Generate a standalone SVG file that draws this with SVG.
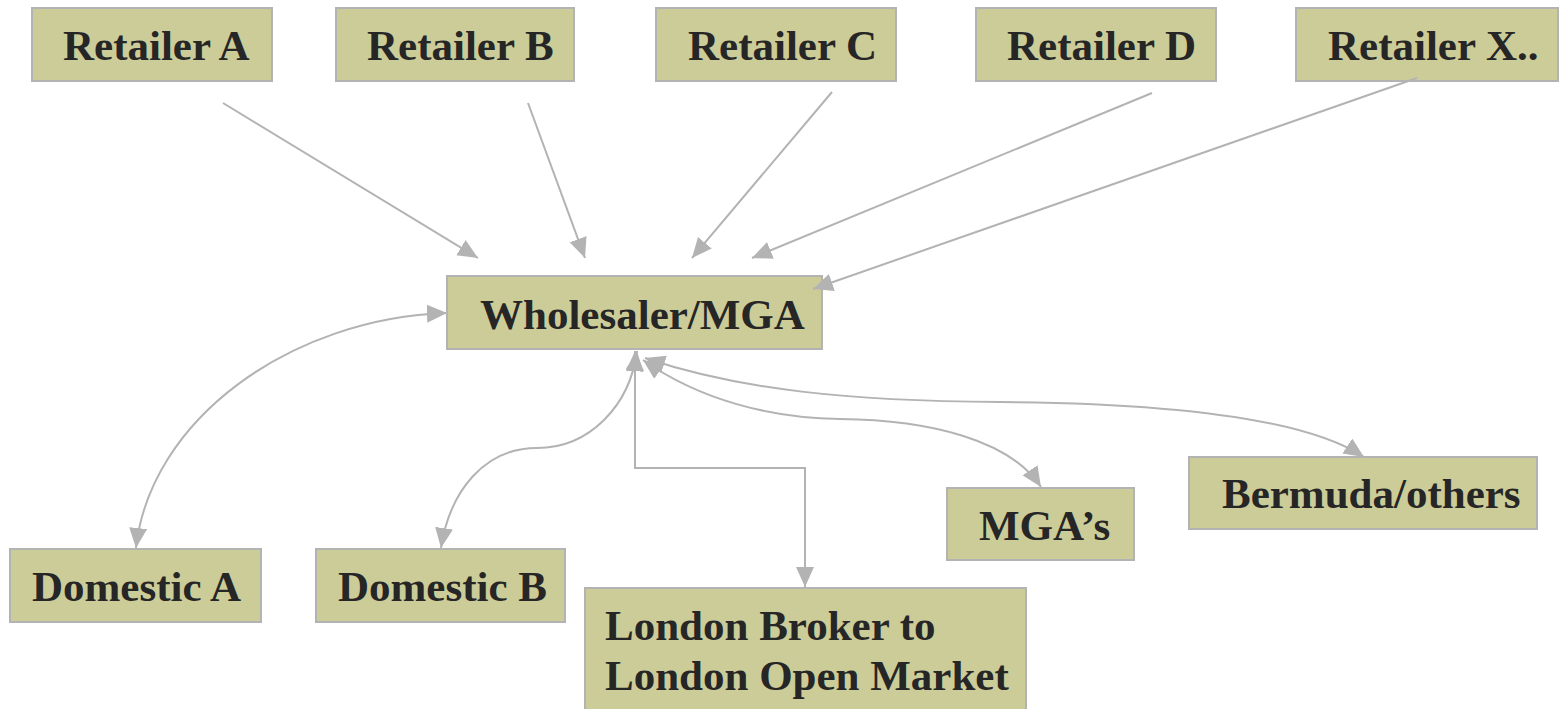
<svg xmlns="http://www.w3.org/2000/svg" width="1559" height="709" viewBox="0 0 1559 709">
<style>
.box{fill:#cccc99;stroke:#b3b3b3;stroke-width:2}
.lbl{font-family:"Liberation Serif","Times New Roman",serif;font-weight:bold;font-size:43px;fill:#262626}
.c{fill:none;stroke:#b3b3b3;stroke-width:2}
</style>
<defs>
<marker id="ah" markerUnits="userSpaceOnUse" markerWidth="22" markerHeight="20" refX="20" refY="9" orient="auto-start-reverse" viewBox="0 0 22 20">
<path d="M0,0 L20,9 L0,18 z" fill="#b3b3b3"/>
</marker>
</defs>
<rect width="1559" height="709" fill="#ffffff"/>
<g id="retailer-a"><rect class="box" x="32" y="8" width="240" height="73"/><text class="lbl" x="63" y="60">Retailer A</text></g>
<g id="retailer-b"><rect class="box" x="336" y="8" width="238" height="73"/><text class="lbl" x="367" y="60">Retailer B</text></g>
<g id="retailer-c"><rect class="box" x="656" y="8" width="240" height="73"/><text class="lbl" x="688" y="60">Retailer C</text></g>
<g id="retailer-d"><rect class="box" x="976" y="8" width="240" height="73"/><text class="lbl" x="1007" y="60">Retailer D</text></g>
<g id="retailer-x"><rect class="box" x="1296" y="8" width="262" height="73"/><text class="lbl" x="1328" y="60">Retailer X..</text></g>
<g id="wholesaler"><rect class="box" x="447" y="276" width="375" height="73"/><text class="lbl" x="480" y="329">Wholesaler/MGA</text></g>
<g id="domestic-a"><rect class="box" x="10" y="549" width="251" height="73"/><text class="lbl" x="32" y="601">Domestic A</text></g>
<g id="domestic-b"><rect class="box" x="316" y="549" width="249" height="73"/><text class="lbl" x="338" y="601">Domestic B</text></g>
<g id="london"><rect class="box" x="585" y="588" width="441" height="130"/><text class="lbl" x="605" y="640">London Broker to</text><text class="lbl" x="605" y="690">London Open Market</text></g>
<g id="mgas"><rect class="box" x="947" y="488" width="187" height="72"/><text class="lbl" x="979" y="540">MGA’s</text></g>
<g id="bermuda"><rect class="box" x="1189" y="457" width="348" height="72"/><text class="lbl" x="1222" y="508">Bermuda/others</text></g>
<g id="connectors">
<path class="c" d="M223,103 L478,258" marker-end="url(#ah)"/>
<path class="c" d="M528,103 L585,258" marker-end="url(#ah)"/>
<path class="c" d="M832,92 L692,258" marker-end="url(#ah)"/>
<path class="c" d="M1152,93 L752,258" marker-end="url(#ah)"/>
<path class="c" d="M1417,78 L813,289" marker-end="url(#ah)"/>
<path class="c" d="M136,548 C150,420 290,318 447,313" marker-start="url(#ah)" marker-end="url(#ah)"/>
<path class="c" d="M441,548 C450,490 485,448 537,448 C590,448 630,405 637,351" marker-start="url(#ah)" marker-end="url(#ah)"/>
<path class="c" d="M635,351 L635,468 L805,468 L805,587" marker-start="url(#ah)" marker-end="url(#ah)"/>
<path class="c" d="M643,360 C700,400 770,418 840,419 C930,420 1010,440 1041,487" marker-start="url(#ah)" marker-end="url(#ah)"/>
<path class="c" d="M645,358 C740,390 850,401 1000,402 C1150,403 1300,415 1364,457" marker-start="url(#ah)" marker-end="url(#ah)"/>
</g>
</svg>
